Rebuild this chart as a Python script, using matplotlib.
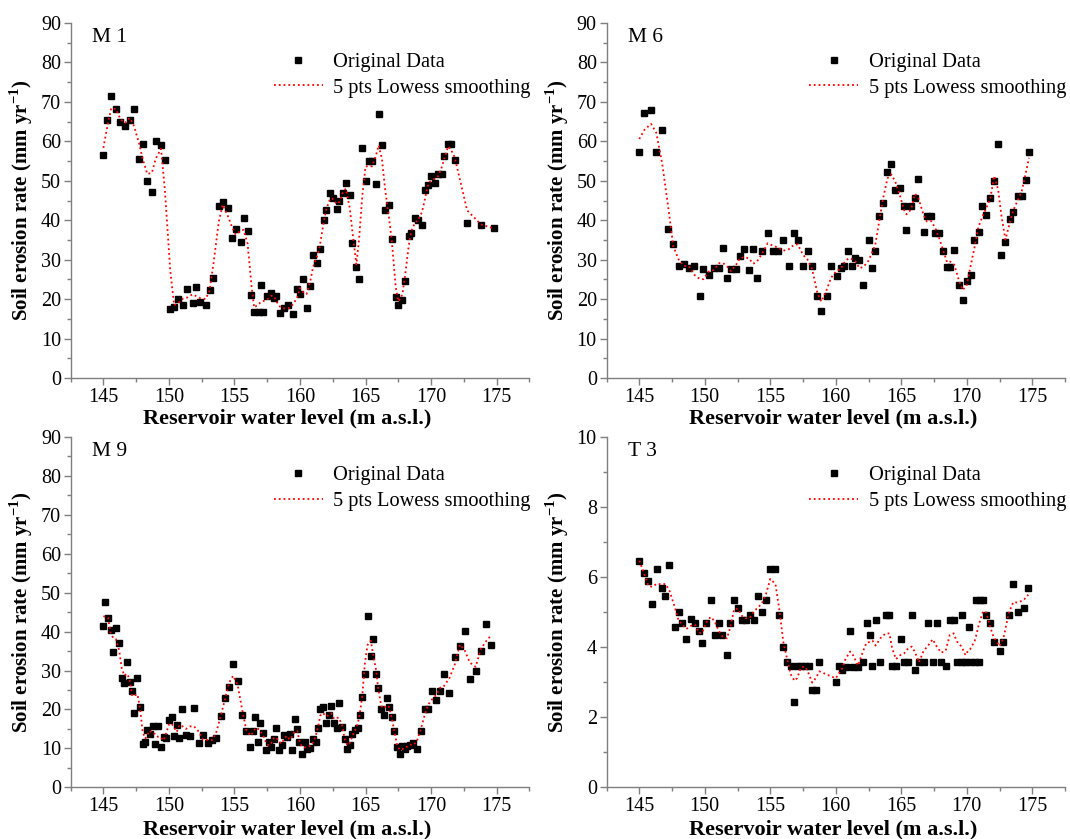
import numpy as np
import matplotlib
matplotlib.use("Agg")
import matplotlib.pyplot as plt
from matplotlib.ticker import MultipleLocator

plt.rcParams['font.family'] = ['Liberation Serif', 'DejaVu Serif']
plt.rcParams['mathtext.fontset'] = 'custom'
plt.rcParams['mathtext.rm'] = 'Liberation Serif'
plt.rcParams['mathtext.bf'] = 'Liberation Serif:bold'

# ---------------- data ----------------
m1_x = [145.0, 145.3, 145.6, 145.96, 146.3, 146.65, 147.0, 147.3, 147.7, 148.0, 148.35, 148.7,
        149.0, 149.4, 149.7, 150.1, 150.4, 150.7, 151.1, 151.4, 151.8, 152.1, 152.4, 152.8,
        153.1, 153.4, 153.8, 154.1, 154.5, 154.8, 155.1, 155.5, 155.7, 156.0, 156.3, 156.5,
        156.9, 157.0, 157.2, 157.5, 157.8, 158.0, 158.2, 158.5, 158.8, 159.1, 159.5, 159.8,
        160.0, 160.25, 160.5, 160.8, 161.0, 161.3, 161.5, 161.8, 162.0, 162.3, 162.5, 162.8,
        163.0, 163.3, 163.5, 163.8, 164.0, 164.3, 164.5, 164.75, 165.0, 165.3, 165.5, 165.8,
        166.0, 166.25, 166.5, 166.8, 167.0, 167.3, 167.5, 167.8, 168.0, 168.3, 168.5, 168.8,
        169.0, 169.3, 169.5, 169.8, 170.0, 170.3, 170.5, 170.8, 171.0, 171.3, 171.5, 171.8,
        172.75, 173.8, 174.8]
m1_y = [56.6, 65.4, 71.4, 68.2, 65.0, 63.9, 65.5, 68.2, 55.4, 59.4, 49.9, 47.1,
        60.1, 59.1, 55.3, 17.5, 18.0, 20.0, 18.5, 22.6, 19.1, 23.1, 19.3, 18.5,
        22.4, 25.4, 43.6, 44.7, 43.0, 35.4, 37.7, 34.5, 40.6, 37.2, 21.1, 16.7,
        16.7, 23.7, 16.7, 20.7, 21.5, 20.2, 20.7, 16.4, 17.7, 18.4, 16.2, 22.6,
        21.4, 25.2, 17.7, 23.4, 31.3, 29.2, 32.8, 40.1, 42.7, 46.8, 45.7, 42.8,
        44.8, 47.0, 49.5, 46.5, 34.3, 28.1, 25.2, 58.3, 50.0, 55.0, 54.9, 49.2,
        67.0, 59.1, 42.5, 43.8, 35.3, 20.5, 18.4, 19.8, 24.5, 36.0, 36.8, 40.5,
        40.1, 38.7, 47.6, 49.0, 51.1, 49.4, 51.8, 51.7, 56.4, 59.4, 59.4, 55.3,
        39.4, 38.7, 38.1]

m6_x = [145.0, 145.4, 145.9, 146.3, 146.75, 147.2, 147.6, 148.0, 148.4, 148.8, 149.2, 149.6,
        149.9, 150.3, 150.7, 151.1, 151.4, 151.7, 152.0, 152.4, 152.7, 153.0, 153.35, 153.7,
        154.0, 154.4, 154.8, 155.2, 155.6, 156.0, 156.4, 156.8, 157.1, 157.5, 157.85, 158.2,
        158.6, 158.9, 159.3, 159.65, 160.1, 160.4, 160.6, 160.95, 161.25, 161.5, 161.8, 162.1,
        162.5, 162.75, 163.0, 163.3, 163.6, 163.95, 164.25, 164.55, 164.9, 165.2, 165.4, 165.75,
        166.05, 166.3, 166.7, 166.95, 167.3, 167.6, 167.9, 168.2, 168.5, 168.75, 169.05, 169.4,
        169.7, 170.0, 170.3, 170.55, 170.9, 171.2, 171.5, 171.8, 172.1, 172.4, 172.65, 172.95,
        173.3, 173.55, 173.9, 174.2, 174.5, 174.75]
m6_y = [57.3, 67.2, 68.0, 57.3, 62.9, 37.7, 33.9, 28.3, 28.9, 27.9, 28.3, 20.9,
        27.6, 26.2, 27.8, 27.8, 33.0, 25.4, 27.7, 27.7, 30.9, 32.7, 27.5, 32.8,
        25.3, 32.2, 36.7, 32.3, 32.3, 34.9, 28.3, 36.7, 34.9, 28.5, 32.3, 28.3,
        20.9, 17.1, 20.9, 28.3, 25.9, 27.8, 28.3, 32.3, 28.3, 30.4, 29.9, 23.5,
        34.9, 27.8, 32.2, 41.0, 44.3, 52.1, 54.2, 47.6, 48.1, 43.6, 37.4, 43.6,
        45.7, 50.4, 37.1, 41.1, 41.0, 36.7, 36.7, 32.2, 28.2, 28.2, 32.4, 23.6,
        19.7, 24.5, 26.0, 34.9, 37.0, 43.6, 41.2, 45.6, 49.9, 59.4, 31.1, 34.4,
        40.3, 42.2, 46.1, 46.1, 50.1, 57.3]

m9_x = [145.0, 145.15, 145.35, 145.55, 145.75, 145.95, 146.2, 146.4, 146.6, 146.8, 147.0, 147.2,
        147.35, 147.6, 147.8, 148.0, 148.2, 148.35, 148.55, 148.75, 148.95, 149.2, 149.4, 149.6,
        149.8, 150.0, 150.2, 150.4, 150.6, 150.8, 151.0, 151.3, 151.6, 151.9, 152.3, 152.6,
        152.95, 153.3, 153.6, 153.95, 154.25, 154.6, 154.9, 155.25, 155.6, 155.9, 156.2, 156.4,
        156.6, 156.8, 156.95, 157.2, 157.4, 157.6, 157.8, 158.0, 158.2, 158.4, 158.6, 158.8,
        159.0, 159.2, 159.4, 159.6, 159.8, 159.95, 160.15, 160.35, 160.55, 160.75, 161.0, 161.2,
        161.4, 161.55, 161.75, 162.0, 162.2, 162.4, 162.6, 162.8, 162.95, 163.2, 163.4, 163.6,
        163.8, 164.0, 164.2, 164.4, 164.55, 164.75, 164.95, 165.15, 165.4, 165.6, 165.8, 165.95,
        166.2, 166.4, 166.6, 166.8, 167.0, 167.2, 167.4, 167.6, 167.8, 168.0, 168.2, 168.4,
        168.6, 168.9, 169.2, 169.5, 169.8, 170.1, 170.4, 170.7, 170.95, 171.4, 171.8, 172.2,
        172.55, 172.95, 173.4, 173.8, 174.2, 174.6]
m9_y = [41.4, 47.6, 43.4, 40.4, 34.8, 40.9, 37.2, 28.0, 26.9, 32.1, 27.1, 24.8,
        19.1, 28.2, 20.7, 11.1, 11.7, 14.7, 13.7, 15.8, 11.1, 15.8, 10.3, 12.8,
        12.6, 17.3, 18.0, 13.2, 16.0, 12.6, 20.0, 13.4, 13.2, 20.3, 11.3, 13.4,
        11.5, 12.1, 12.7, 18.3, 23.0, 25.8, 31.8, 27.4, 18.5, 14.5, 10.3, 14.5,
        18.0, 11.7, 16.6, 14.0, 9.6, 11.7, 10.4, 12.3, 15.3, 9.6, 10.9, 13.4,
        12.8, 13.7, 9.6, 17.5, 14.9, 11.7, 8.5, 11.7, 9.8, 10.0, 12.3, 11.7,
        15.3, 20.0, 20.7, 16.4, 18.6, 20.9, 16.6, 15.3, 21.7, 15.6, 12.3, 9.8,
        10.9, 13.7, 14.7, 15.3, 18.5, 23.1, 29.0, 44.0, 33.7, 38.0, 29.0, 25.6,
        20.0, 18.5, 23.0, 20.7, 18.1, 14.5, 10.3, 8.5, 10.6, 9.8, 10.6, 10.9,
        11.5, 9.8, 14.5, 20.0, 20.0, 24.7, 22.4, 24.7, 29.0, 24.1, 33.4, 36.3,
        40.1, 27.9, 29.9, 35.1, 42.0, 36.5]

t3_x = [145.0, 145.35, 145.7, 146.0, 146.35, 146.7, 147.0, 147.3, 147.7, 148.0, 148.3, 148.6,
        148.95, 149.25, 149.55, 149.8, 150.1, 150.45, 150.75, 151.05, 151.35, 151.7, 151.95, 152.25,
        152.55, 152.85, 153.15, 153.45, 153.75, 154.05, 154.35, 154.7, 155.0, 155.4, 155.7, 156.0,
        156.3, 156.55, 156.85, 157.05, 157.35, 157.65, 157.95, 158.2, 158.5, 158.75, 160.0, 160.25,
        160.5, 160.75, 161.1, 161.35, 161.7, 162.1, 162.35, 162.6, 162.8, 163.05, 163.4, 163.8,
        164.1, 164.3, 164.6, 165.0, 165.2, 165.55, 165.8, 166.05, 166.35, 166.7, 167.05, 167.4,
        167.7, 168.05, 168.4, 168.7, 169.0, 169.25, 169.6, 169.6, 169.9, 170.15, 170.25, 170.6,
        170.7, 170.9, 171.0, 171.25, 171.5, 171.8, 172.05, 172.5, 172.8, 173.2, 173.55, 173.9,
        174.35, 174.7]
t3_y = [6.45, 6.12, 5.89, 5.24, 6.24, 5.68, 5.47, 6.35, 4.57, 5.01, 4.68, 4.23,
        4.80, 4.68, 4.46, 4.12, 4.68, 5.35, 4.34, 4.68, 4.34, 3.79, 4.68, 5.35,
        5.12, 4.79, 4.79, 4.91, 4.79, 5.47, 5.01, 5.35, 6.24, 6.24, 4.91, 4.01,
        3.57, 3.45, 2.44, 3.45, 3.45, 3.45, 3.45, 2.78, 2.78, 3.57, 3.00, 3.45,
        3.35, 3.44, 4.45, 3.44, 3.44, 3.57, 4.68, 4.34, 3.45, 4.79, 3.57, 4.91,
        4.91, 3.45, 3.45, 4.23, 3.57, 3.57, 4.91, 3.35, 3.57, 3.57, 4.68, 3.57,
        4.68, 3.57, 3.45, 4.79, 4.79, 3.57, 4.91, 3.57, 3.57, 4.57, 3.57, 3.57,
        5.35, 3.57, 5.35, 5.35, 4.91, 4.68, 4.14, 3.90, 4.14, 4.91, 5.79, 5.01,
        5.12, 5.68]

panels = [("M 1", m1_x, m1_y, 90, 10, 5),
          ("M 6", m6_x, m6_y, 90, 10, 5),
          ("M 9", m9_x, m9_y, 90, 10, 5),
          ("T 3", t3_x, t3_y, 10, 2, 1)]


def lowess(x, y, npts=5):
    x = np.asarray(x, float)
    y = np.asarray(y, float)
    o = np.argsort(x, kind="stable")
    x, y = x[o], y[o]
    out = np.empty_like(y)
    for i, xi in enumerate(x):
        d = np.abs(x - xi)
        idx = np.argsort(d, kind="stable")[:npts]
        h = d[idx].max() * 1.0001 + 1e-9
        w = (1 - (d[idx] / h) ** 3) ** 3
        xs, ys = x[idx], y[idx]
        W = w.sum()
        xm = (w * xs).sum() / W
        ym = (w * ys).sum() / W
        sxx = (w * (xs - xm) ** 2).sum()
        b = (w * (xs - xm) * (ys - ym)).sum() / sxx if sxx > 0 else 0.0
        out[i] = ym + b * (xi - xm)
    return x, out


W_, H_ = 1070, 839
fig = plt.figure(figsize=(W_ / 100, H_ / 100), dpi=100)
boxes = [(70.6, 23, 529.4, 378), (606.5, 23, 1065, 378),
         (70.6, 437, 529.4, 787.3), (606.5, 437, 1065, 787.3)]
xlab_x = [0.472, 0.494, 0.472, 0.494]
xlab_y = [-0.087, -0.087, -0.092, -0.092]
spine_col = '#7f7f7f'
for k, ((name, xs, ys, ymax, ymaj, ymin_), (l, t, r, b)) in enumerate(zip(panels, boxes)):
    ax = fig.add_axes([l / W_, 1 - b / H_, (r - l) / W_, (b - t) / H_])
    ax.plot(xs, ys, 's', color='black', markersize=4.6, label='Original Data', zorder=2)
    sx, sy = lowess(xs, ys, 5)
    ax.plot(sx, sy, ':', color='red', lw=1.3, label='5 pts Lowess smoothing', zorder=3)
    ax.set_xlim(142.5, 177.5)
    ax.set_ylim(0, ymax)
    ax.xaxis.set_major_locator(MultipleLocator(5))
    ax.xaxis.set_minor_locator(MultipleLocator(2.5))
    ax.yaxis.set_major_locator(MultipleLocator(ymaj))
    ax.yaxis.set_minor_locator(MultipleLocator(ymin_))
    ax.set_xticks([145, 150, 155, 160, 165, 170, 175])
    for s in ['top', 'right']:
        ax.spines[s].set_visible(False)
    for s in ['left', 'bottom']:
        ax.spines[s].set_color(spine_col)
        ax.spines[s].set_linewidth(1.0)
    ax.tick_params(which='major', direction='out', length=5, width=1, color=spine_col,
                   labelsize=14.5, pad=2)
    ax.tick_params(which='minor', direction='out', length=3, width=1, color=spine_col)
    ax.set_xlabel('Reservoir water level (m a.s.l.)', fontsize=16, fontweight='bold')
    ax.xaxis.set_label_coords(xlab_x[k], xlab_y[k], transform=ax.transAxes)
    ax.set_ylabel(r'Soil erosion rate (mm yr$^{\mathbf{-1}}$)', fontsize=15,
                  fontweight='bold', labelpad=4)
    ax.text(0.047, 0.985, name, transform=ax.transAxes, fontsize=15.5, va='top', ha='left')
    ax.legend(loc='upper right', bbox_to_anchor=(1.02, 0.94), frameon=False,
              fontsize=14.7, handlelength=2.4, handletextpad=0.5, labelspacing=0.32,
              borderaxespad=0.0)

fig.savefig('out.png', dpi=100)
